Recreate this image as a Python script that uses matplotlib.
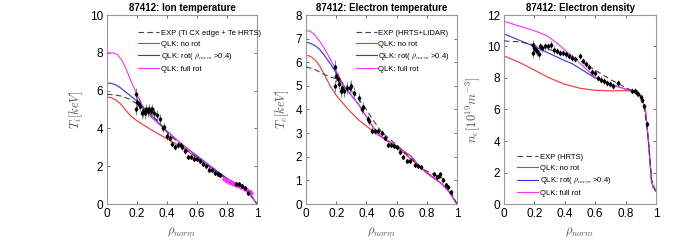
import matplotlib
matplotlib.use("Agg")
import matplotlib.pyplot as plt

plt.rcParams.update({
    "font.family": ["Liberation Sans", "DejaVu Sans"],
    "font.size": 7,
    "mathtext.fontset": "cm",
})

C_EXP = "#444444"
C_NOROT = "#ff3030"
C_ROT = "#3030ff"
C_FULL = "#ff30ff"

# ---- Ion temperature ----
ti_exp_x = [0.0, 0.05, 0.1, 0.15, 0.2, 0.25, 0.3, 0.35, 0.4, 0.5, 0.6, 0.7, 0.8, 0.9, 0.95, 1.0]
ti_exp_y = [5.8, 5.78, 5.7, 5.55, 5.3, 5.0, 4.7, 4.3, 3.8, 3.05, 2.45, 1.85, 1.3, 0.9, 0.55, 0.0]
ti_norot_x = [0.0, 0.03, 0.06, 0.09, 0.12, 0.16, 0.2, 0.3, 0.4, 0.5, 0.6, 0.7, 0.8, 0.9, 0.95, 1.0]
ti_norot_y = [5.65, 5.62, 5.5, 5.3, 5.0, 4.65, 4.4, 3.9, 3.45, 3.0, 2.45, 1.9, 1.35, 0.9, 0.55, 0.0]
ti_rot_x = [0.0, 0.03, 0.06, 0.09, 0.12, 0.16, 0.2, 0.25, 0.3, 0.35, 0.4, 0.5, 0.6, 0.7, 0.8, 0.9, 0.95, 1.0]
ti_rot_y = [6.4, 6.38, 6.3, 6.15, 5.95, 5.7, 5.45, 5.05, 4.65, 4.25, 3.85, 3.15, 2.55, 1.95, 1.35, 0.9, 0.55, 0.0]
ti_full_x = [0.0, 0.04, 0.07, 0.1, 0.13, 0.16, 0.2, 0.25, 0.3, 0.35, 0.4, 0.5, 0.6, 0.7, 0.8, 0.9, 0.95, 1.0]
ti_full_y = [8.0, 8.0, 7.9, 7.6, 7.1, 6.5, 5.8, 5.0, 4.55, 4.2, 3.85, 3.15, 2.5, 1.9, 1.3, 0.9, 0.55, 0.0]
ti_pts_x = [0.19, 0.19, 0.20, 0.21, 0.22, 0.23, 0.24, 0.25, 0.26, 0.27, 0.28, 0.29, 0.30, 0.31,
            0.33, 0.35, 0.37, 0.38, 0.40, 0.42, 0.43, 0.45, 0.47, 0.49, 0.50, 0.52, 0.54, 0.56,
            0.58, 0.60, 0.62, 0.64, 0.66, 0.68, 0.70, 0.72, 0.74, 0.75, 0.86, 0.88, 0.90, 0.92, 0.94]
ti_pts_y = [5.8, 5.0, 5.4, 5.3, 5.2, 4.8, 4.9, 4.8, 5.0, 4.9, 5.0, 4.9, 5.0, 4.8,
            4.7, 4.5, 4.0, 4.1, 3.6, 3.5, 3.2, 3.0, 3.1, 3.1, 3.0, 2.8, 2.5, 2.5,
            2.4, 2.4, 2.3, 2.1, 2.0, 1.8, 1.8, 1.65, 1.6, 1.55, 1.05, 1.05, 0.95, 0.85, 0.6]
ti_pts_err = [0.35, 0.3, 0.3, 0.3, 0.3, 0.3, 0.3, 0.3, 0.3, 0.3, 0.3, 0.3, 0.3, 0.3,
              0.25, 0.25, 0.2, 0.2, 0.2, 0.2, 0.15, 0.15, 0.15, 0.15, 0.15, 0.15, 0.12, 0.12,
              0.12, 0.12, 0.1, 0.1, 0.1, 0.1, 0.1, 0.1, 0.1, 0.1, 0.1, 0.1, 0.1, 0.1, 0.1]
ti_edge_x = [0.78, 0.79, 0.80, 0.81, 0.82, 0.83, 0.84, 0.85, 0.86, 0.87, 0.88, 0.89, 0.90,
             0.91, 0.92, 0.93, 0.94, 0.95, 0.96]
ti_edge_y = [1.32, 1.25, 1.22, 1.18, 1.15, 1.1, 1.08, 1.05, 1.0, 0.98, 0.95, 0.92, 0.9,
             0.85, 0.8, 0.75, 0.7, 0.62, 0.6]

# ---- Electron temperature ----
te_exp_x = [0.0, 0.05, 0.1, 0.15, 0.2, 0.27, 0.33, 0.4, 0.45, 0.5, 0.6, 0.7, 0.78, 0.85, 0.9, 0.93, 0.96, 1.0]
te_exp_y = [5.8, 5.72, 5.55, 5.4, 5.3, 5.0, 4.6, 4.0, 3.5, 3.05, 2.5, 1.9, 1.45, 1.25, 1.1, 0.85, 0.5, 0.0]
te_norot_x = [0.0, 0.03, 0.06, 0.09, 0.12, 0.16, 0.2, 0.28, 0.35, 0.45, 0.55, 0.65, 0.75, 0.82, 0.9, 0.95, 1.0]
te_norot_y = [6.3, 6.25, 6.1, 5.85, 5.5, 5.0, 4.6, 4.0, 3.55, 3.05, 2.6, 2.15, 1.6, 1.25, 0.85, 0.5, 0.0]
te_rot_x = [0.0, 0.03, 0.06, 0.09, 0.12, 0.16, 0.2, 0.25, 0.3, 0.35, 0.4, 0.45, 0.5, 0.6, 0.7, 0.75, 0.8, 0.9, 0.95, 1.0]
te_rot_y = [6.85, 6.8, 6.7, 6.55, 6.3, 5.95, 5.55, 5.0, 4.6, 4.2, 3.7, 3.2, 2.85, 2.45, 2.0, 1.6, 1.3, 0.85, 0.5, 0.0]
te_full_x = [0.0, 0.03, 0.06, 0.09, 0.12, 0.16, 0.2, 0.25, 0.3, 0.35, 0.4, 0.45, 0.5, 0.6, 0.7, 0.75, 0.8, 0.9, 0.95, 1.0]
te_full_y = [7.35, 7.3, 7.15, 6.9, 6.6, 6.15, 5.65, 5.0, 4.6, 4.2, 3.7, 3.2, 2.85, 2.45, 2.0, 1.6, 1.3, 0.85, 0.5, 0.0]
te_pts_x = [0.19, 0.19, 0.20, 0.21, 0.22, 0.23, 0.24, 0.25, 0.27, 0.29, 0.30, 0.32, 0.35, 0.37,
            0.38, 0.41, 0.42, 0.44, 0.46, 0.48, 0.50, 0.52, 0.54, 0.56, 0.58, 0.60, 0.62, 0.64,
            0.67, 0.69, 0.72, 0.74, 0.76, 0.85, 0.87, 0.88, 0.89, 0.91, 0.93, 0.94, 0.96]
te_pts_y = [5.8, 5.0, 5.4, 5.3, 5.1, 4.8, 4.9, 4.8, 4.9, 4.9, 5.0, 4.7, 4.5, 4.0,
            4.1, 3.6, 3.5, 3.1, 3.1, 3.1, 3.0, 2.8, 2.5, 2.5, 2.45, 2.4, 2.2, 2.0,
            1.8, 1.8, 1.65, 1.6, 1.55, 1.25, 1.15, 1.2, 1.25, 1.0, 0.8, 0.7, 0.5]
te_pts_err = [0.3, 0.25, 0.25, 0.25, 0.25, 0.25, 0.25, 0.25, 0.25, 0.25, 0.25, 0.25, 0.2, 0.2,
              0.2, 0.15, 0.15, 0.15, 0.12, 0.12, 0.12, 0.1, 0.1, 0.1, 0.1, 0.1, 0.08, 0.08,
              0.08, 0.08, 0.07, 0.07, 0.07, 0.07, 0.07, 0.07, 0.07, 0.07, 0.07, 0.07, 0.07]

# ---- Electron density ----
ne_exp_x = [0.0, 0.1, 0.2, 0.3, 0.4, 0.5, 0.6, 0.7, 0.82, 0.87, 0.9, 0.92, 0.94, 0.955, 0.97, 0.99, 1.0]
ne_exp_y = [10.35, 10.3, 10.1, 9.8, 9.5, 9.1, 8.5, 7.9, 7.3, 7.1, 6.8, 6.2, 5.0, 3.5, 1.6, 1.0, 0.8]
ne_norot_x = [0.0, 0.1, 0.2, 0.3, 0.4, 0.5, 0.6, 0.7, 0.8, 0.85, 0.9, 0.93, 0.95, 0.97, 0.98, 1.0]
ne_norot_y = [9.4, 9.0, 8.5, 8.0, 7.6, 7.35, 7.22, 7.18, 7.2, 7.15, 6.9, 6.0, 4.0, 1.5, 1.1, 0.8]
ne_rot_x = [0.0, 0.1, 0.2, 0.3, 0.4, 0.45, 0.5, 0.6, 0.7, 0.8, 0.85, 0.9, 0.93, 0.95, 0.97, 0.98, 1.0]
ne_rot_y = [10.8, 10.4, 10.0, 9.55, 9.1, 8.9, 8.6, 8.0, 7.6, 7.3, 7.15, 6.9, 6.0, 4.0, 1.5, 1.1, 0.8]
ne_full_x = [0.0, 0.1, 0.2, 0.28, 0.33, 0.38, 0.42, 0.46, 0.52, 0.6, 0.7, 0.8, 0.85, 0.9, 0.93, 0.95, 0.97, 0.98, 1.0]
ne_full_y = [11.6, 11.3, 11.0, 10.7, 10.35, 9.95, 9.6, 9.3, 8.75, 8.05, 7.6, 7.3, 7.15, 6.9, 6.0, 4.0, 1.5, 1.1, 0.8]
ne_pts_x = [0.19, 0.19, 0.20, 0.21, 0.22, 0.23, 0.24, 0.25, 0.27, 0.29, 0.31, 0.33, 0.35, 0.37,
            0.39, 0.41, 0.43, 0.45, 0.47, 0.50, 0.52, 0.54, 0.56, 0.58, 0.60, 0.62, 0.64, 0.66,
            0.68, 0.70, 0.72, 0.75, 0.84, 0.86, 0.87, 0.88, 0.90, 0.91, 0.92, 0.94]
ne_pts_y = [10.1, 9.6, 9.9, 9.8, 9.7, 9.5, 10.0, 9.9, 10.0, 10.0, 10.1, 9.8, 9.7, 9.6,
            9.6, 9.5, 9.4, 9.3, 9.2, 9.4, 9.1, 8.9, 8.7, 8.4, 8.3, 8.0, 7.9, 7.8,
            7.7, 7.6, 7.5, 7.7, 7.2, 7.2, 7.1, 7.0, 6.8, 6.6, 6.2, 5.1]
ne_pts_err = [0.3, 0.3, 0.3, 0.3, 0.3, 0.3, 0.25, 0.25, 0.25, 0.25, 0.25, 0.25, 0.2, 0.2,
              0.2, 0.2, 0.2, 0.2, 0.2, 0.2, 0.2, 0.2, 0.2, 0.2, 0.2, 0.2, 0.2, 0.2,
              0.2, 0.2, 0.2, 0.2, 0.15, 0.15, 0.15, 0.15, 0.15, 0.15, 0.15, 0.15]

ROT_LABEL = r"QLK: rot( $\rho_{norm}$ >0.4)"

fig = plt.figure(figsize=(6.85, 2.49), dpi=100)
W, H = 685.0, 249.0
boxes = [(107, 257), (306, 457), (504, 656)]
axes = [fig.add_axes([l / W, (H - 204) / H, (r - l) / W, 189 / H]) for l, r in boxes]


def style(ax, ymax, ystep, ylabel, title):
    ax.set_xlim(0, 1)
    ax.set_ylim(0, ymax)
    ax.set_xticks([0, 0.2, 0.4, 0.6, 0.8, 1])
    ax.set_xticklabels(["0", "0.2", "0.4", "0.6", "0.8", "1"])
    ax.set_yticks(range(0, ymax + 1, ystep))
    ax.tick_params(direction="in", top=True, right=True, length=2.5, width=0.6,
                   color="#555555", labelsize=8.5, pad=3)
    for s in ax.spines.values():
        s.set_color("#999999")
        s.set_linewidth(0.8)
    ax.set_xlabel(r"$\rho_{norm}$", fontsize=9, color="#555555", labelpad=4)
    ax.set_ylabel(ylabel, fontsize=9, color="#555555", labelpad=3)
    ax.set_title(title, fontsize=7, fontweight="bold", pad=3)


def profiles(ax, ex, ey, nx, ny, rx, ry, fx, fy, exp_label):
    ax.plot(ex, ey, "--", color=C_EXP, lw=0.8, dashes=(5, 3), label=exp_label, zorder=4)
    ax.plot(nx, ny, color=C_NOROT, lw=0.8, label="QLK: no rot", zorder=2)
    ax.plot(rx, ry, color=C_ROT, lw=0.8, label=ROT_LABEL, zorder=2)
    ax.plot(fx, fy, color=C_FULL, lw=0.8, label="QLK: full rot", zorder=3)


def points(ax, x, y, err):
    ax.errorbar(x, y, yerr=err, fmt="d", ms=2, color="black", ecolor="#555555",
                elinewidth=0.5, capsize=0, zorder=5)


def legend(ax, loc, anchor):
    ax.legend(loc=loc, frameon=False, fontsize=5.5, handlelength=2.8,
              bbox_to_anchor=anchor, labelspacing=0.45, handletextpad=0.2)


ax = axes[0]
profiles(ax, ti_exp_x, ti_exp_y, ti_norot_x, ti_norot_y, ti_rot_x, ti_rot_y,
         ti_full_x, ti_full_y, "EXP (Ti CX edge + Te HRTS)")
ax.errorbar(ti_edge_x, ti_edge_y, yerr=0.12, fmt="o", ms=2, color=C_FULL,
            elinewidth=1.2, capsize=0, zorder=4)
points(ax, ti_pts_x, ti_pts_y, ti_pts_err)
style(ax, 10, 2, r"$T_i[keV]$", "87412: Ion temperature")
legend(ax, "upper right", (1.07, 0.96))

ax = axes[1]
profiles(ax, te_exp_x, te_exp_y, te_norot_x, te_norot_y, te_rot_x, te_rot_y,
         te_full_x, te_full_y, "EXP (HRTS+LIDAR)")
points(ax, te_pts_x, te_pts_y, te_pts_err)
style(ax, 8, 1, r"$T_e[keV]$", "87412: Electron temperature")
legend(ax, "upper right", (1.0, 0.96))

ax = axes[2]
profiles(ax, ne_exp_x, ne_exp_y, ne_norot_x, ne_norot_y, ne_rot_x, ne_rot_y,
         ne_full_x, ne_full_y, "EXP (HRTS)")
points(ax, ne_pts_x, ne_pts_y, ne_pts_err)
style(ax, 12, 2, r"$n_e[10^{19}m^{-3}]$", "87412: Electron density")
legend(ax, "lower left", (0.04, 0.0))

fig.savefig("out.png", dpi=100, facecolor="white")
